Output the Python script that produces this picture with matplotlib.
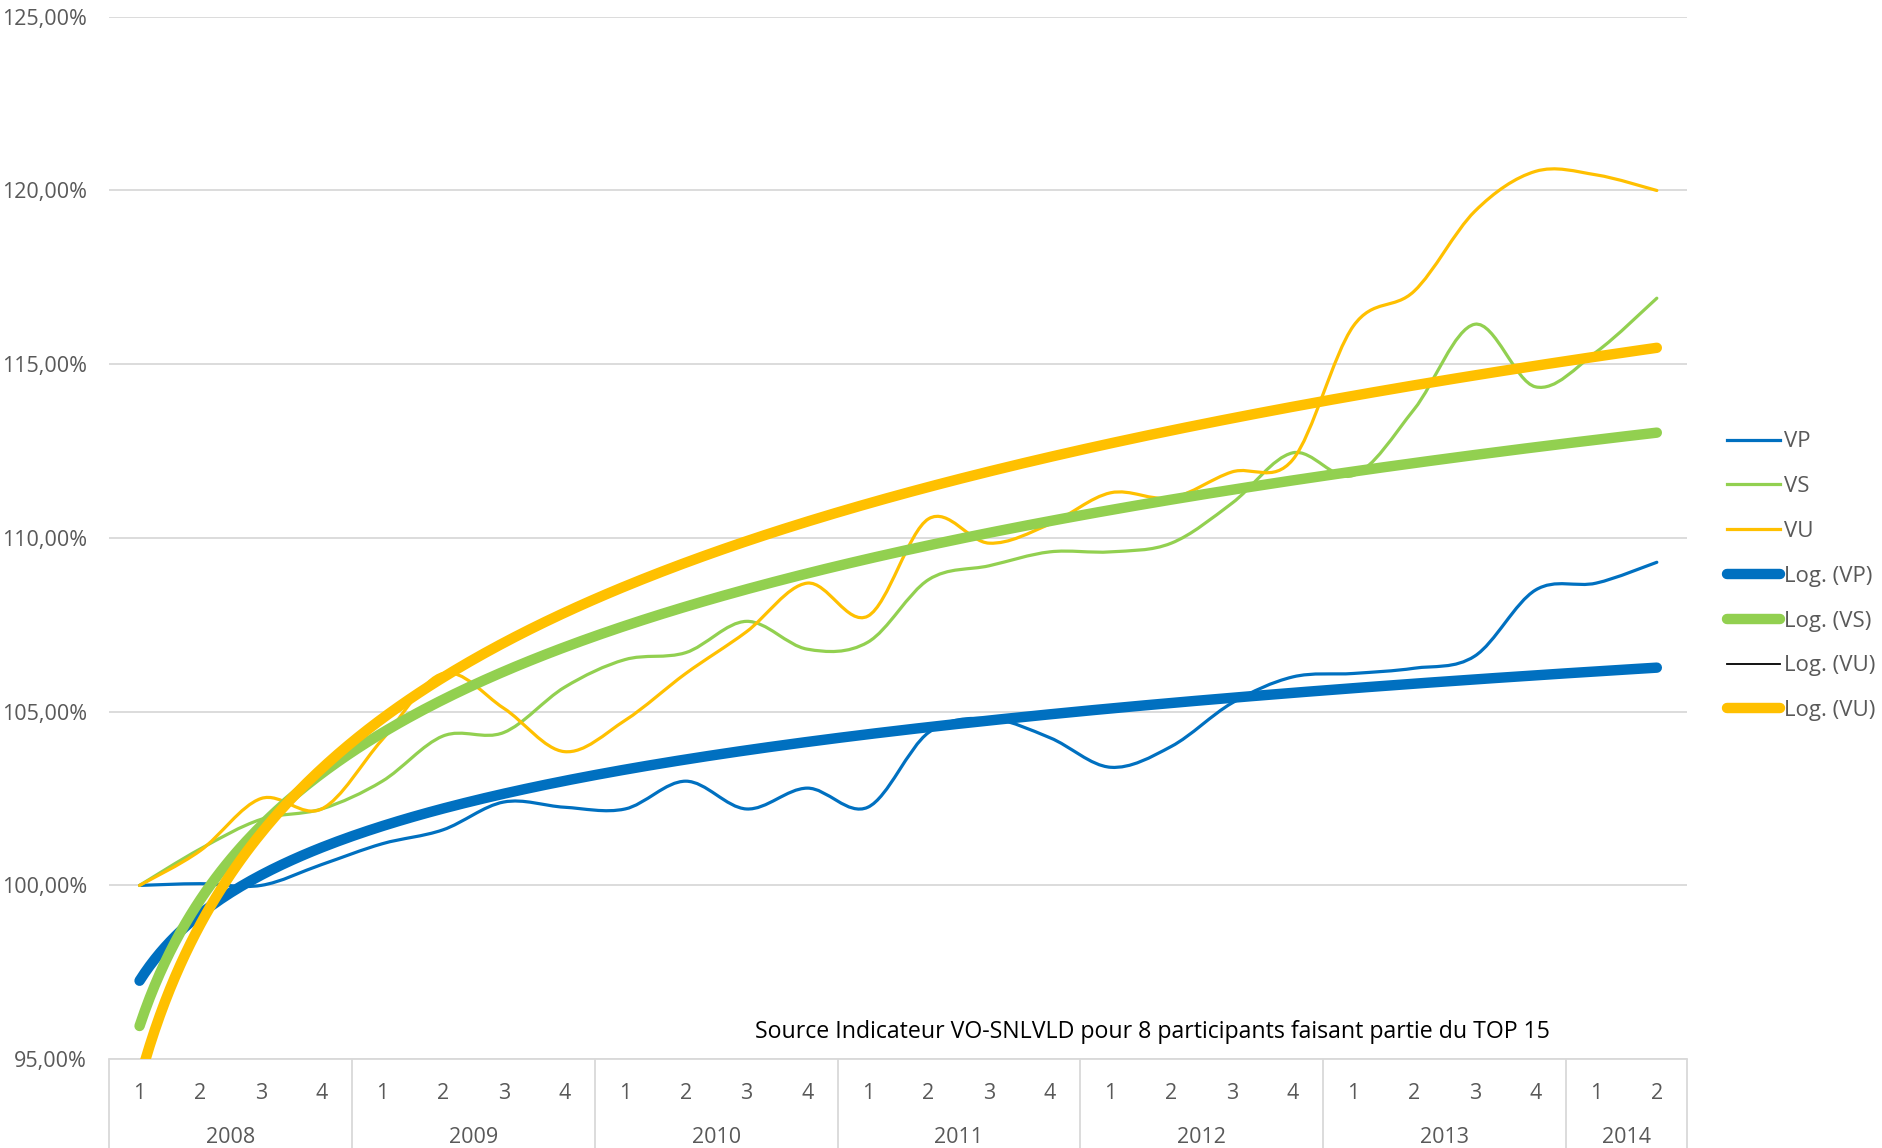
import numpy as np
import matplotlib
matplotlib.use('Agg')
import matplotlib.pyplot as plt
from matplotlib.path import Path
from matplotlib.patches import PathPatch
from matplotlib.lines import Line2D
from matplotlib.ticker import FuncFormatter

plt.rcParams['font.family'] = ['Open Sans', 'DejaVu Sans']

# données trimestrielles (indice base 100 au T1 2008)
years = ['2008', '2009', '2010', '2011', '2012', '2013', '2014']
quarters_per_year = [4, 4, 4, 4, 4, 4, 2]
vp = [100.0, 100.05, 100.0, 100.6, 101.2, 101.6, 102.4, 102.25, 102.2, 103.0, 102.2, 102.8, 102.25,
      104.4, 104.8, 104.25, 103.4, 104.0, 105.25, 106.0, 106.1, 106.25, 106.6, 108.5, 108.7, 109.3]
vs = [100.0, 101.05, 101.9, 102.2, 103.0, 104.3, 104.4, 105.7, 106.5, 106.7, 107.6, 106.8, 107.0,
      108.8, 109.2, 109.6, 109.6, 109.85, 111.0, 112.45, 111.8, 113.7, 116.15, 114.35, 115.35, 116.9]
vu = [100.0, 101.0, 102.5, 102.2, 104.2, 106.1, 105.1, 103.85, 104.75, 106.1, 107.3, 108.7, 107.75,
      110.55, 109.85, 110.4, 111.3, 111.15, 111.9, 112.25, 116.1, 117.1, 119.4, 120.55, 120.45, 120.0]

blue = '#0070C0'
green = '#92D050'
gold = '#FFC000'
grey_txt = '#595959'
grid_col = '#D9D9D9'

x = np.arange(len(vp))


def smooth_path(xs, ys):
    # courbe lissée façon Excel (Catmull-Rom -> Bézier)
    pts = np.column_stack([xs, ys]).astype(float)
    p = np.vstack([pts[0], pts, pts[-1]])
    verts = [pts[0]]
    codes = [Path.MOVETO]
    for i in range(1, len(p) - 2):
        c1 = p[i] + (p[i + 1] - p[i - 1]) / 6.0
        c2 = p[i + 1] - (p[i + 2] - p[i]) / 6.0
        verts += [c1, c2, p[i + 1]]
        codes += [Path.CURVE4] * 3
    return Path(verts, codes)


fig = plt.figure(figsize=(18.83, 11.48), dpi=100)
ax = fig.add_axes([0.058, 0.0774, 0.838, 0.908])

# séries
for serie, col in [(vp, blue), (vs, green), (vu, gold)]:
    ax.add_patch(PathPatch(smooth_path(x, serie), fill=False, edgecolor=col,
                           lw=2.3, capstyle='round', joinstyle='round', zorder=3))

# courbes de tendance logarithmiques
xt = np.linspace(1, len(vp), 300)
for serie, col in [(vp, blue), (vs, green), (vu, gold)]:
    b, a = np.polyfit(np.log(x + 1), serie, 1)
    ax.plot(xt - 1, a + b * np.log(xt), color=col, lw=7.5, solid_capstyle='round', zorder=4)

ax.set_xlim(-0.5, len(vp) - 0.5)
ax.set_ylim(95, 125)
ax.set_yticks(np.arange(95, 126, 5))
ax.yaxis.set_major_formatter(FuncFormatter(lambda v, p: f'{v:.2f}'.replace('.', ',') + '%'))
ax.grid(axis='y', color=grid_col, lw=1.3)
ax.set_axisbelow(True)
for s in ['top', 'right', 'left']:
    ax.spines[s].set_visible(False)
ax.spines['bottom'].set_color(grid_col)
ax.spines['bottom'].set_linewidth(1.3)
ax.tick_params(axis='y', length=0, pad=16, labelsize=15.5, labelcolor=grey_txt)

# axe des catégories à deux niveaux
qlabels = []
for n in quarters_per_year:
    qlabels += [str(q) for q in range(1, n + 1)]
ax.set_xticks(x)
ax.set_xticklabels(qlabels)
ax.tick_params(axis='x', which='major', length=0, pad=17, labelsize=15.5, labelcolor=grey_txt)
bounds = np.concatenate([[0], np.cumsum(quarters_per_year)]) - 0.5
ax.set_xticks(bounds, minor=True)
ax.tick_params(axis='x', which='minor', length=70, width=1.3, color=grid_col, direction='out')

start = 0
for yr, n in zip(years, quarters_per_year):
    ax.text(start + (n - 1) / 2, -0.075, yr, transform=ax.get_xaxis_transform(),
            ha='center', va='center', fontsize=15.5, color=grey_txt)
    start += n

ax.text(0.661, 0.026, 'Source Indicateur VO-SNLVLD pour 8 participants faisant partie du TOP 15',
        transform=ax.transAxes, ha='center', va='center', fontsize=16.7, color='black')

handles = [
    Line2D([], [], color=blue, lw=2.3),
    Line2D([], [], color=green, lw=2.3),
    Line2D([], [], color=gold, lw=2.3),
    Line2D([], [], color=blue, lw=7.5, solid_capstyle='round'),
    Line2D([], [], color=green, lw=7.5, solid_capstyle='round'),
    Line2D([], [], color='black', lw=1.3),
    Line2D([], [], color=gold, lw=7.5, solid_capstyle='round'),
]
labels = ['VP', 'VS', 'VU', 'Log. (VP)', 'Log. (VS)', 'Log. (VU)', 'Log. (VU)']
fig.legend(handles, labels, loc='center left', bbox_to_anchor=(0.917, 0.498), frameon=False,
           fontsize=16, labelcolor=grey_txt, handlelength=2.4, handletextpad=0.2,
           labelspacing=1.07, borderpad=0, borderaxespad=0)

fig.savefig('out.png', dpi=100)
